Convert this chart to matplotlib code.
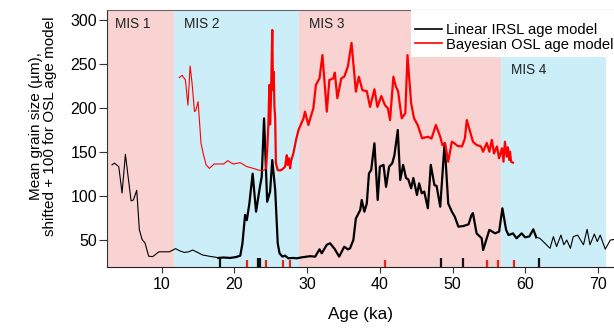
import matplotlib
matplotlib.use("Agg")
import matplotlib.pyplot as plt
from matplotlib.patches import Rectangle
import numpy as np

plt.rcParams['font.family'] = ['Liberation Sans', 'DejaVu Sans']

# ---- data ----
irsl_age = [3.16, 3.48, 4.09, 4.54, 5.0, 5.78, 6.1, 6.56, 6.92, 7.3, 7.7, 8.2, 8.76, 9.6, 10.3,
            11.05, 11.9, 12.5, 13.1, 13.7, 14.26, 15.0, 15.6, 16.5, 17.5, 17.8, 18.5, 19.4, 20.2,
            20.8, 21.1, 21.46, 21.7, 22.05, 22.5, 22.97, 23.5, 23.75, 24.07, 24.5, 24.9, 25.2,
            25.6, 25.95, 26.2, 26.6, 26.96, 27.4, 28.0, 28.6, 29.26, 30.4, 31.1, 31.7, 32.0,
            32.7, 33.15, 33.8, 34.4, 35.1, 35.6, 35.9, 36.35, 36.7, 37.3, 37.5, 37.87, 38.2,
            38.5, 38.8, 39.25, 39.7, 40.0, 40.5, 40.85, 41.27, 41.7, 42.0, 42.46, 42.8, 43.2,
            43.6, 43.9, 44.3, 44.6, 45.1, 45.4, 45.76, 46.1, 46.6, 47.0, 47.5, 47.8, 48.3,
            48.9, 49.4, 49.9, 50.3, 50.8, 51.5, 52.2, 52.6, 52.8, 53.3, 54.0, 54.2, 54.7,
            55.06, 55.85, 56.4, 56.85, 57.36, 57.7, 58.3, 58.8, 59.5, 59.97, 60.56, 61.1,
            61.5, 62.0, 62.7, 63.4, 63.86, 64.3, 64.9, 65.3, 65.7, 66.2, 66.6, 67.2, 67.6,
            68.0, 68.5, 68.9, 69.5, 69.9, 70.3, 71.0, 71.7, 72.2]
irsl_size = [135, 137, 133, 103, 147, 94, 95, 106, 61, 50, 46, 31, 30.5, 36, 36,
             36, 39.6, 37, 35.3, 36, 38, 35, 32.4, 31, 29.7, 29, 29.5, 29, 30,
             31.6, 45.7, 78, 72, 91, 125, 81.7, 110, 121.6, 188, 93, 104.7, 140.5,
             106.6, 45.7, 34.3, 30.5, 31.6, 28.6, 29, 28.6, 29.7, 31, 30.5, 38.8, 34.3,
             44, 45.7, 39, 30.5, 41.8, 38.8, 40, 49.4, 74, 83.6, 95, 81.7, 91,
             125.4, 129, 159.6, 95, 133, 135, 110, 133, 136.8, 146, 174.7, 117.8, 135,
             120, 118.5, 108.3, 120, 100.7, 114, 102.6, 104.6, 85.5, 135, 112, 111, 87.4,
             159.6, 91, 81.7, 76, 64.6, 65.4, 67.3, 77.9, 80, 57, 51.4, 38, 51.4,
             61, 57, 59, 85.5, 61, 55, 57, 51.4, 57, 52.5, 53.5, 61.6,
             52.5, 51.4, 45.7, 40, 53.3, 42, 55, 44, 49.4, 40, 53.3, 55, 49.4,
             44, 61.6, 44, 56.3, 47.6, 55, 39, 49.4, 50]

osl_age = [12.4, 12.8, 13.25, 13.6, 13.9, 14.17, 14.5, 14.7, 15.0, 15.4, 15.7, 16.1, 16.55,
           17.2, 17.9, 18.5, 19.1, 19.5, 19.85, 20.8, 21.7, 22.6, 23.3, 24.0, 24.35, 24.5,
           24.67, 24.8, 24.9, 25.0, 25.1, 25.2, 25.3, 25.4, 25.5, 25.6, 25.7, 25.95, 26.27,
           26.6, 26.96, 27.2, 27.3, 27.5, 27.65, 27.8, 28.1, 28.47, 28.8, 29.1, 29.5, 29.7,
           30.17, 30.5, 30.85, 31.2, 31.7, 32.1, 32.7, 33.05, 33.6, 33.8, 34.15, 34.7, 35.1,
           35.6, 36.1, 36.7, 37.1, 37.6, 38.2, 38.65, 39.25, 39.66, 40.2, 40.7, 41.1, 41.4,
           41.86, 42.2, 42.5, 43.0, 43.5, 43.8, 44.3, 44.7, 45.2, 45.8, 46.6, 47.1, 47.7,
           48.3, 48.6, 48.97, 49.4, 49.9, 50.25, 50.7, 51.3, 51.7, 51.95, 52.4, 52.8, 53.3,
           53.9, 54.2, 54.7, 55.06, 55.4, 55.7, 56.1, 56.4, 56.8, 57.0, 57.2, 57.45, 57.6,
           57.8, 57.9, 58.05, 58.3]
osl_size = [234.3, 237, 231.7, 203, 247.6, 228, 195.6, 197.5, 207, 159.6, 148, 135, 131,
            136, 136, 136, 139.8, 137.5, 136, 137.5, 133, 131, 129, 128.6, 131, 152,
            182.4, 226, 181, 205, 245, 288.6, 220, 241, 201, 188, 137, 129, 128.6,
            130, 133, 146, 135, 142.5, 131, 140, 148, 163.4, 174.7, 180.4, 188, 195.6,
            180.4, 190, 199.4, 226, 233.6, 260, 195.6, 231.7, 233.6, 240, 211, 233.6, 235.4,
            247, 274, 218.4, 235.4, 220, 219, 201, 221, 201, 213.4, 203, 199.4, 186,
            235.4, 224, 219, 188, 194, 260, 205, 188, 180.4, 165.3, 167, 165, 180.4,
            167, 157.6, 159.6, 138.6, 161.4, 159.6, 156.5, 156, 165.3, 186, 173, 161.4, 157.6,
            156, 150, 160, 150, 163.4, 148, 156, 142.5, 154, 138.6, 161.4, 144.3, 155,
            140.5, 150, 138.6, 137.5]

mis_names = ["MIS 1", "MIS 2", "MIS 3", "MIS 4"]
mis_bounds = [(2.0, 11.65), (11.65, 28.9), (28.9, 56.7), (56.7, 71.1)]

irsl_dates = [18.0, 23.3, 23.5, 48.4, 51.5, 61.9]
osl_dates = [21.7, 24.4, 26.7, 27.6, 40.7, 54.7, 56.3, 58.4]

# ---- figure ----
fig = plt.figure(figsize=(6.14, 3.28), dpi=100)
ax = fig.add_axes([0.1738, 0.186, 0.8262, 0.782])
xlim = (2.43, 72.2)
ylim = (18.7, 310.8)

pink = "#F9D2D2"
blue = "#CCEEF8"
for i, (name, (a0, a1)) in enumerate(zip(mis_names, mis_bounds)):
    ax.axvspan(a0, a1, color=pink if i % 2 == 0 else blue, lw=0, zorder=0)

ia = np.array(irsl_age); isz = np.array(irsl_size)
oa = np.array(osl_age); osz = np.array(osl_size)

thin, thick = 0.8, 1.6
m1 = ia <= 18.0
m2 = (ia >= 17.8) & (ia <= 61.5)
m3 = ia >= 61.5
ax.plot(ia[m1], isz[m1], color="black", lw=thin, zorder=3)
ax.plot(ia[m2], isz[m2], color="black", lw=thick, zorder=3)
ax.plot(ia[m3], isz[m3], color="black", lw=thin, zorder=3)

r1 = oa <= 24.35
r2 = oa >= 24.35
ax.plot(oa[r1], osz[r1], color="#FF0000", lw=thin, zorder=3)
ax.plot(oa[r2], osz[r2], color="#FF0000", lw=thick, zorder=3)

# date rug ticks
ax.vlines(irsl_dates, ylim[0], 29.5, color="#111111", lw=1.6, zorder=4)
ax.vlines(osl_dates, ylim[0], 26.5, color="#EE2211", lw=1.6, zorder=4)

# MIS labels
label_pos = [(3.58, 295.5), (13.07, 295.5), (30.3, 295.5), (58.1, 243)]
for name, (lx, ly) in zip(mis_names, label_pos):
    ax.text(lx, ly, name, fontsize=9.8, color="#222222", ha="left", va="center", zorder=5)

# legend background (white box, top right)
ax.add_patch(Rectangle((0.600, 0.819), 0.45, 0.2, transform=ax.transAxes,
                       facecolor="white", edgecolor="none", zorder=5, clip_on=True))
h1, = ax.plot([], [], color="black", lw=1.2, label="Linear IRSL age model")
h2, = ax.plot([], [], color="#FF0000", lw=1.2, label="Bayesian OSL age model")
leg = ax.legend(handles=[h1, h2], loc="upper left", bbox_to_anchor=(0.607, 0.952),
                frameon=False, fontsize=10.6, handlelength=1.83, handletextpad=0.3,
                borderpad=0.0, labelspacing=0.05, borderaxespad=0.0)
leg.set_zorder(6)

ax.set_xlim(*xlim)
ax.set_ylim(*ylim)
ax.set_xticks([10, 20, 30, 40, 50, 60, 70])
ax.set_yticks([50, 100, 150, 200, 250, 300])
ax.tick_params(axis="x", direction="out", length=4.5, width=0.8, labelsize=11.5,
               color="#333333", pad=2.5)
ax.tick_params(axis="y", direction="out", length=5.5, width=0.8, labelsize=11.5,
               color="#333333", pad=1.5)
ax.set_xlabel("Age (ka)", fontsize=12.3, labelpad=11)
fig.text(0.070, 0.616, "Mean grain size (µm),\nshifted + 100 for OSL age model",
         rotation=90, ha="center", va="center", fontsize=11, linespacing=1.0)

ax.spines["top"].set_color("#666666")
ax.spines["left"].set_color("#333333")
ax.spines["bottom"].set_color("#222222")
ax.spines["right"].set_visible(False)

fig.savefig("out.png", dpi=100)
